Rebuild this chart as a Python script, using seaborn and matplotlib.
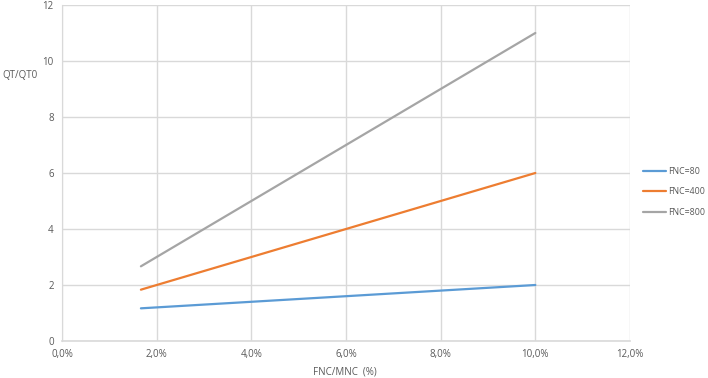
import matplotlib
matplotlib.use("Agg")
import matplotlib.pyplot as plt
import seaborn as sns
import pandas as pd
from matplotlib.ticker import FuncFormatter

# data
x_ratio = [1.667, 10.0]  # FNC/MNC in %
series_names = ["FNC=80", "FNC=400", "FNC=800"]
fnc80 = [1.167, 2.0]
fnc400 = [1.833, 6.0]
fnc800 = [2.667, 11.0]
colors = ["#5B9BD5", "#ED7D31", "#A5A5A5"]

rows = []
for name, vals in zip(series_names, [fnc80, fnc400, fnc800]):
    for xv, yv in zip(x_ratio, vals):
        rows.append({"x": xv, "y": yv, "series": name})
df = pd.DataFrame(rows)

sns.set_style("white")
plt.rcParams["font.family"] = ["Open Sans", "DejaVu Sans"]

fig = plt.figure(figsize=(7.08, 3.78), dpi=100)
ax = fig.add_axes([62/708, 37/378, (630-62)/708, (341-5)/378])

sns.lineplot(data=df, x="x", y="y", hue="series", palette=colors,
             linewidth=1.6, ax=ax, legend=True, sort=False)

ax.set_xlim(0, 12)
ax.set_ylim(0, 12)
ax.set_xticks([0, 2, 4, 6, 8, 10, 12])
ax.set_yticks([0, 2, 4, 6, 8, 10, 12])
ax.xaxis.set_major_formatter(FuncFormatter(lambda v, p: f"{v:.1f}%".replace(".", ",")))
ax.yaxis.set_major_formatter(FuncFormatter(lambda v, p: f"{int(v)}"))
ax.grid(True, color="#D9D9D9", linewidth=1.0)
ax.set_axisbelow(True)
for s in ["top", "right"]:
    ax.spines[s].set_visible(False)
ax.spines["left"].set_color("#D9D9D9")
ax.spines["bottom"].set_color("#D9D9D9")
ax.spines["bottom"].set_linewidth(1.2)
ax.tick_params(axis="both", length=0, labelsize=7, colors="#595959", pad=6)

ax.set_xlabel("")
ax.set_ylabel("")
fig.text(313/708, 1 - 372/378, "FNC/MNC  (%)", fontsize=7, color="#595959", va="center", ha="left")
fig.text(2/708, 1 - 76/378, "QT/QT0", fontsize=7, color="#595959", va="center", ha="left")

leg = ax.legend(loc="center left", bbox_to_anchor=(641/708, 1 - 192/378),
                bbox_transform=fig.transFigure, frameon=False, fontsize=6.3,
                handlelength=2.6, handletextpad=0.25, labelspacing=1.3,
                borderaxespad=0, borderpad=0.2)
for t in leg.get_texts():
    t.set_color("#595959")

fig.savefig("out.png", dpi=100)
